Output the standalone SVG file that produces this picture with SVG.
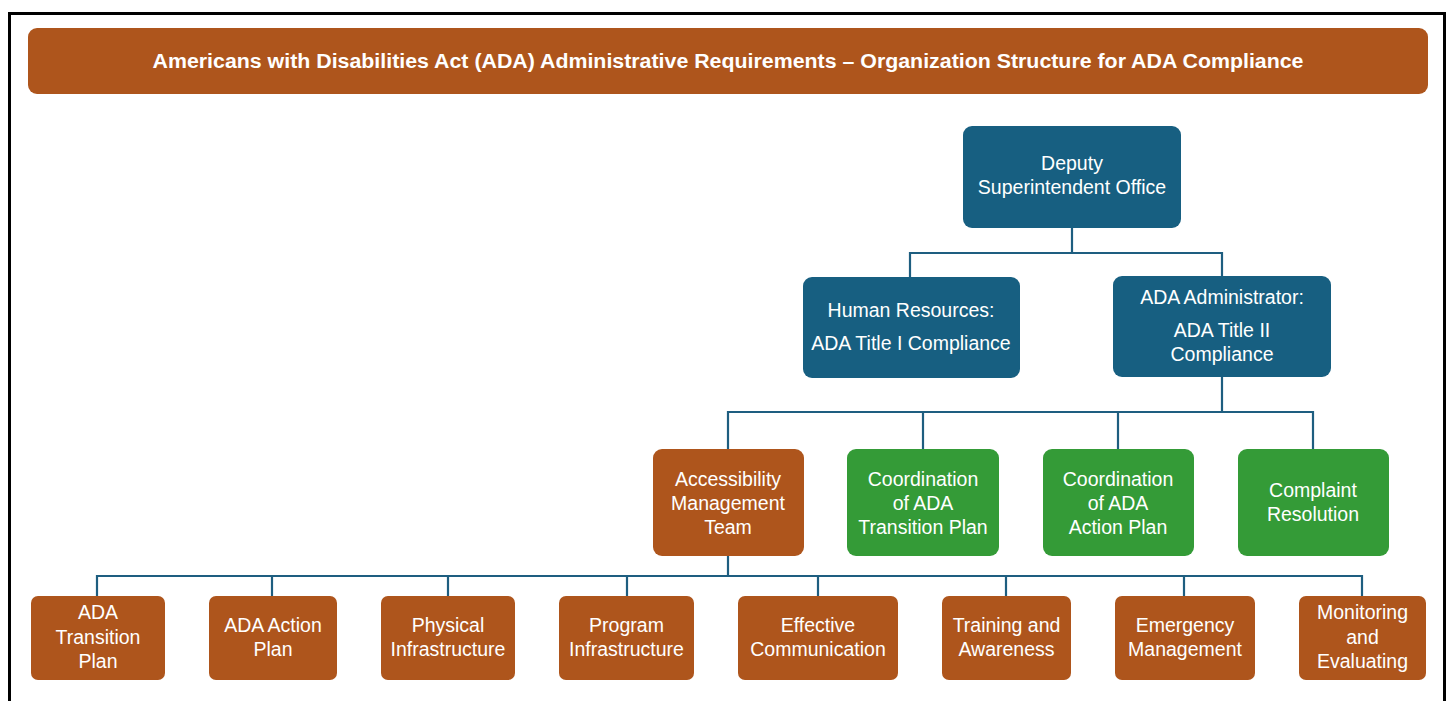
<svg xmlns="http://www.w3.org/2000/svg" width="1450" height="701" viewBox="0 0 1450 701">
<style>
.o{fill:#AE551C}.b{fill:#175F81}.g{fill:#349B37}
text{font-family:"Liberation Sans",Arial,sans-serif;font-size:19.5px;fill:#fff;text-anchor:middle}
.t{font-weight:bold;font-size:20px}
.c{fill:none;stroke:#1E5E80;stroke-width:2.2}
</style>
<rect x="0" y="0" width="1450" height="701" fill="#fff"/>
<rect x="9.5" y="13.5" width="1435" height="700" fill="none" stroke="#000" stroke-width="3"/>
<g id="title">
<rect x="28" y="28" width="1400" height="66" rx="9" class="o"/>
<text class="t" x="728" y="68" textLength="1151" lengthAdjust="spacingAndGlyphs">Americans with Disabilities Act (ADA) Administrative Requirements – Organization Structure for ADA Compliance</text>
</g>
<g id="connectors" class="c">
<path d="M1072 228V253M910 277V253H1222V277"/>
<path d="M1222 377V412M728 449V412H1313V449M923 412V449M1118 412V449"/>
<path d="M728 556V576M97 596V576H1362V596M272 576V596M448 576V596M627 576V596M818 576V596M1006 576V596M1184 576V596"/>
</g>
<g id="deputy"><rect x="963" y="126" width="218" height="102" rx="9" class="b"/><text x="1072" y="170">Deputy</text><text x="1072" y="194">Superintendent Office</text></g>
<g id="hr"><rect x="803" y="277" width="217" height="101" rx="9" class="b"/><text x="911" y="317">Human Resources:</text><text x="911" y="350">ADA Title I Compliance</text></g>
<g id="admin"><rect x="1113" y="276" width="218" height="101" rx="9" class="b"/><text x="1222" y="304">ADA Administrator:</text><text x="1222" y="337">ADA Title II</text><text x="1222" y="361">Compliance</text></g>
<g id="amt"><rect x="653" y="449" width="151" height="107" rx="9" class="o"/><text x="728" y="486">Accessibility</text><text x="728" y="510">Management</text><text x="728" y="534">Team</text></g>
<g id="coordTransition"><rect x="847" y="449" width="152" height="107" rx="9" class="g"/><text x="923" y="486">Coordination</text><text x="923" y="510">of ADA</text><text x="923" y="534">Transition Plan</text></g>
<g id="coordAction"><rect x="1043" y="449" width="151" height="107" rx="9" class="g"/><text x="1118" y="486">Coordination</text><text x="1118" y="510">of ADA</text><text x="1118" y="534">Action Plan</text></g>
<g id="complaint"><rect x="1238" y="449" width="151" height="107" rx="9" class="g"/><text x="1313" y="497">Complaint</text><text x="1313" y="521">Resolution</text></g>
<g id="transitionPlan"><rect x="31" y="596" width="134" height="84" rx="7" class="o"/><text x="98" y="619">ADA</text><text x="98" y="644">Transition</text><text x="98" y="668">Plan</text></g>
<g id="actionPlan"><rect x="209" y="596" width="128" height="84" rx="7" class="o"/><text x="273" y="632">ADA Action</text><text x="273" y="656">Plan</text></g>
<g id="physical"><rect x="381" y="596" width="134" height="84" rx="7" class="o"/><text x="448" y="632">Physical</text><text x="448" y="656">Infrastructure</text></g>
<g id="program"><rect x="559" y="596" width="135" height="84" rx="7" class="o"/><text x="626.5" y="632">Program</text><text x="626.5" y="656">Infrastructure</text></g>
<g id="effective"><rect x="738" y="596" width="160" height="84" rx="7" class="o"/><text x="818" y="632">Effective</text><text x="818" y="656">Communication</text></g>
<g id="training"><rect x="942" y="596" width="129" height="84" rx="7" class="o"/><text x="1006.5" y="632">Training and</text><text x="1006.5" y="656">Awareness</text></g>
<g id="emergency"><rect x="1115" y="596" width="140" height="84" rx="7" class="o"/><text x="1185" y="632">Emergency</text><text x="1185" y="656">Management</text></g>
<g id="monitoring"><rect x="1299" y="596" width="127" height="84" rx="7" class="o"/><text x="1362.5" y="619">Monitoring</text><text x="1362.5" y="644">and</text><text x="1362.5" y="668">Evaluating</text></g>
</svg>
